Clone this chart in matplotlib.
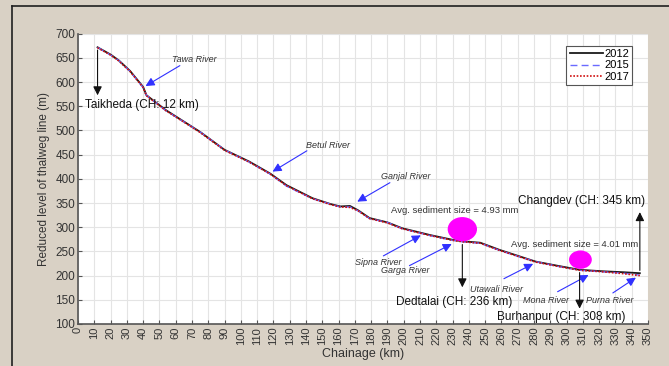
import matplotlib
matplotlib.use("Agg")
import matplotlib.pyplot as plt
from matplotlib.patches import Ellipse
from matplotlib.lines import Line2D

plt.rcParams['font.family'] = ['Liberation Sans', 'DejaVu Sans']

# Thalweg profile
chainage = [12, 20, 25, 32, 40, 42, 54, 75, 90, 105, 118, 128, 144, 155, 161, 167,
            172, 179, 190, 199, 216, 230, 236, 247, 259, 270, 281, 295, 308, 322, 335, 345]
level_2012 = [672, 657, 645, 623, 590, 573, 542, 497, 460, 436, 411, 387, 360, 348, 343, 344,
              335, 319, 310, 298, 284, 274, 271, 268, 253, 241, 229, 220, 212, 209, 207, 205]
level_2015 = [672, 656, 645, 622, 589, 573, 541, 497, 460, 435, 410, 385, 359, 348, 342, 342,
              334, 318, 310, 297, 283, 273, 270, 267, 252, 240, 229, 219, 211, 208, 205, 201]
level_2017 = [671, 656, 644, 622, 589, 572, 541, 496, 459, 435, 410, 386, 359, 347, 342, 341,
              334, 318, 309, 297, 283, 273, 270, 267, 252, 240, 228, 219, 211, 208, 204, 200]

# Sediment size markers: (chainage, level, width km, height m, label, label x, label y)
sediment = [(236, 296, 18, 50, "Avg. sediment size = 4.93 mm", 192, 334),
            (308.5, 233, 14, 38, "Avg. sediment size = 4.01 mm", 266, 265)]

# River confluences: (label, text x, text y, arrow tail x, tail y, head x, head y)
rivers = [("Tawa River", 58, 646, 64, 637, 40, 589),
          ("Betul River", 140, 469, 142, 461, 118, 412),
          ("Ganjal River", 186, 405, 193, 395, 170, 350),
          ("Sipna River", 170, 228, 186, 238, 212, 286),
          ("Garga River", 186, 210, 202, 218, 231, 268),
          ("Utawali River", 241, 172, 260, 191, 281, 227),
          ("Mona River", 273, 148, 293, 164, 315, 204),
          ("Purna River", 312, 148, 327, 161, 344, 199)]

# Key locations: (label, chainage, arrow from, arrow to, text x, text y, ha)
places = [("Taikheda (CH: 12 km)", 12, 672, 567, 4, 553, "left"),
          ("Dedtalai (CH: 236 km)", 236, 270, 170, 195.5, 146, "left"),
          ("Burhanpur (CH: 308 km)", 308, 212, 126, 257, 115, "left"),
          ("Changdev (CH: 345 km)", 345, 205, 337, 348, 355, "right")]

fig = plt.figure(figsize=(6.69, 3.66), dpi=100)
fig.patch.set_facecolor("#d9d1c5")
ax = fig.add_axes([0.1166, 0.1148, 0.852, 0.793])

# outer frame lines
fig.add_artist(Line2D([12 / 669, 12 / 669], [0, 1 - 6 / 366], color="#202020", lw=1.2))
fig.add_artist(Line2D([12 / 669, 1], [1 - 6 / 366, 1 - 6 / 366], color="#202020", lw=1.2))

ax.plot(chainage, level_2012, color="#1a1a1a", lw=1.3, label="2012")
ax.plot(chainage, level_2015, color="#6a6aff", lw=1.0, ls=(0, (5, 3)), label="2015")
ax.plot(chainage, level_2017, color="#d01010", lw=1.2, ls=(0, (1, 1)), label="2017")

for cx, cy, w, h, txt, tx, ty in sediment:
    ax.add_patch(Ellipse((cx, cy), w, h, facecolor="#ff00ff", edgecolor="none", zorder=4))
    ax.text(tx, ty, txt, fontsize=6.8, color="#333333", ha="left", va="center")

for name, tx, ty, x0, y0, x1, y1 in rivers:
    ax.text(tx, ty, name, fontsize=6.5, style="italic", color="#333333", ha="left", va="center")
    ax.annotate("", xy=(x1, y1), xytext=(x0, y0),
                arrowprops=dict(arrowstyle="-|>", color="#3030ff", lw=0.8, mutation_scale=13))

for name, cx, y0, y1, tx, ty, ha in places:
    ax.annotate("", xy=(cx, y1), xytext=(cx, y0),
                arrowprops=dict(arrowstyle="-|>", color="#111111", lw=0.8, mutation_scale=13))
    ax.text(tx, ty, name, fontsize=8.5, color="#111111", ha=ha, va="center", zorder=5)

ax.set_xlim(0, 350)
ax.set_ylim(100, 700)
ax.set_xticks(range(0, 351, 10))
ax.set_yticks(range(100, 701, 50))
ax.tick_params(axis="x", labelrotation=90, labelsize=8, labelcolor="#333333",
               direction="in", length=3, color="#555555", pad=2)
ax.tick_params(axis="y", labelsize=8.5, labelcolor="#333333",
               direction="in", length=3, color="#555555", pad=2)
ax.grid(True, color="#e4e4e4", lw=0.8)
ax.set_axisbelow(True)
for s in ["top", "right"]:
    ax.spines[s].set_visible(False)
for s in ["left", "bottom"]:
    ax.spines[s].set_color("#555555")
    ax.spines[s].set_linewidth(1.2)

ax.set_xlabel("Chainage (km)", fontsize=9, color="#333333", labelpad=2)
ax.set_ylabel("Reduced level of thalweg line (m)", fontsize=8.5, color="#333333", labelpad=4)

leg = ax.legend(loc="upper right", fontsize=8, handlelength=3, handletextpad=0.1,
                borderpad=0.3, labelspacing=0.1, fancybox=False, framealpha=1,
                edgecolor="#555555", bbox_to_anchor=(0.982, 0.977))
leg.get_frame().set_linewidth(0.8)

fig.savefig("out.png", dpi=100, facecolor=fig.get_facecolor())
